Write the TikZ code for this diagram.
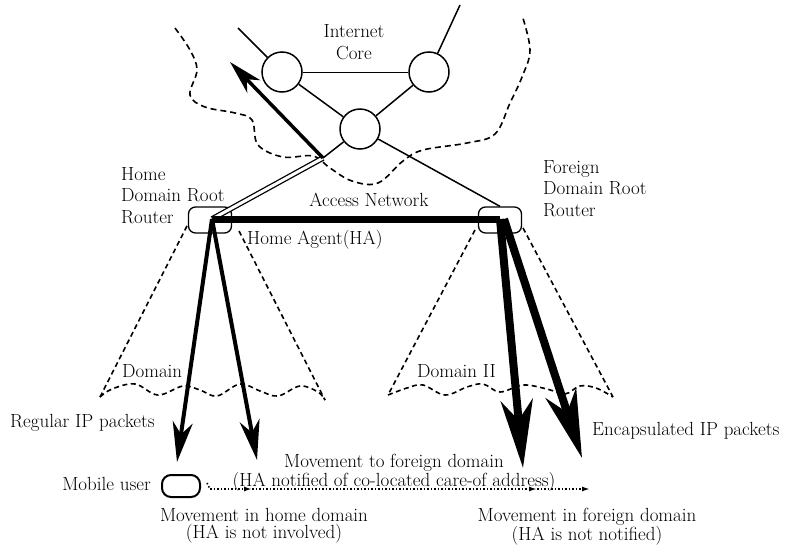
\documentclass[tikz,border=0pt]{standalone}
\usetikzlibrary{arrows.meta}
\begin{document}
\begin{tikzpicture}[x=1pt,y=-1pt,
  lbl/.style={inner sep=0pt, font=\fontsize{19}{21.5}\selectfont},
  router/.style={draw, line width=1.3pt, rounded corners=7pt, minimum width=43pt, minimum height=26pt, inner sep=0pt},
  corenode/.style={draw, circle, line width=1.5pt, minimum size=40pt, inner sep=0pt},
  userbox/.style={draw, line width=2pt, rounded corners=9pt, minimum width=38pt, minimum height=22pt, inner sep=0pt},
  link/.style={line width=1.5pt},
  thinlink/.style={line width=1pt},
  boundary/.style={line width=1.6pt, dash pattern=on 6pt off 4pt},
  domainedge/.style={line width=1.6pt, dash pattern=on 5pt off 3.5pt},
  uplink/.style={double, line width=1.3pt, double distance=3pt},
  homepkt/.style={line width=4pt, -{Stealth[length=40pt,width=20pt,inset=12pt]}},
  tunnel/.style={line width=8pt, -{Stealth[length=68pt,width=32pt,inset=20pt]}},
  outbound/.style={line width=3.5pt, -{Stealth[length=34pt,width=18pt,inset=10pt]}},
  trail/.style={line width=1.6pt, dash pattern=on 1.5pt off 2pt},
  move/.style={trail, -{Latex[length=8pt,width=5pt]}}
]
\useasboundingbox (0,0) rectangle (787,544);

% boundary of the Internet core
\draw[boundary] plot[smooth, tension=0.6] coordinates {(175,28) (190,50) (197,70) (190,95) (205,107) (235,113) (252,120) (258,145) (283,157) (313,156) (330,168) (352,181) (378,183) (403,161) (423,150) (467,143) (495,134) (510,103) (522,77) (530,50) (522,15)};

% core routers
\node[corenode] (c1) at (282,72) {};
\node[corenode] (c2) at (429,72) {};
\node[corenode] (c3) at (360,129) {};
\coordinate (t1) at (238,28);
\coordinate (t2) at (460,5);
\draw[link] (c1) -- (t1);
\draw[link] (c2) -- (t2);
\draw[thinlink] (c1) -- (c2);
\draw[link] (c1) -- (c3);
\draw[link] (c2) -- (c3);

% domain root routers
\node[router] (hr) at (210,220) {};
\node[router] (fr) at (500,220) {};
\coordinate (hh) at (212,219);
\coordinate (fh) at (500,219);
\coordinate (j) at (323,158);
\coordinate (up) at (230,62);

\draw[link] (c3) -- (fr.north);
\draw[link] (c3) -- (j);
\draw[uplink] (j) -- (hh);
\draw[outbound] (j) -- (up);

% domains
\draw[domainedge] (187,226) -- (100,397);
\draw[domainedge] (239,231) -- (325,400);
\draw[domainedge] plot[smooth, tension=0.6] coordinates {(100,397) (112,389) (135,384) (158,395) (183,386) (200,390) (217,396) (240,384) (260,391) (278,396) (300,386) (318,392) (325,400)};
\draw[domainedge] (475,230) -- (388,395);
\draw[domainedge] (523,228) -- (613,397);
\draw[domainedge] plot[smooth, tension=0.6] coordinates {(388,395) (407,388) (423,385) (445,395) (467,387) (483,384) (500,392) (523,385) (547,389) (565,394) (580,386) (596,388) (613,397)};

% home agent to foreign domain
\draw[line width=7pt] (hh) -- (fh);

% packet flows
\coordinate (ht1) at (177,462);
\coordinate (ht2) at (257,460);
\coordinate (ft1) at (523,468);
\coordinate (ft2) at (582,458);
\draw[homepkt] (hh) -- (ht1);
\draw[homepkt] (hh) -- (ht2);
\draw[tunnel] (fh) -- (ft1);
\draw[tunnel] ([xshift=4pt]fh) -- (ft2);

% mobile user and its movements
\node[userbox] (mu) at (181,486) {};
\coordinate (m0) at (210,489);
\coordinate (m1) at (252,489);
\coordinate (m2) at (537,489);
\coordinate (m3) at (590,489);
\draw[trail] (mu.east) ++(6pt,3pt) -- (m0);
\draw[move] (m0) -- (m1);
\draw[move] (m1) -- (m2);
\draw[move] (m2) -- (m3);

% labels
\node[lbl, anchor=north, align=center, font=\fontsize{19}{22}\selectfont] (lcore) at (354,24.8) {Internet\\Core};
\node[lbl, anchor=north west, align=left] (lhome) at (121,167) {Home\\Domain Root\\Router};
\node[lbl, anchor=north west, align=left] (lforeign) at (543,160) {Foreign\\Domain Root\\Router};
\node[lbl] (laccess) at (369,200) {Access Network};
\node[lbl, anchor=base west] (lha) at (247,244) {Home Agent(HA)};
\node[lbl, anchor=base west] (ldom) at (122,377) {Domain};
\node[lbl, anchor=base west] (ldom2) at (417,377) {Domain II};
\node[lbl, anchor=base west] (lreg) at (10,427) {Regular IP packets};
\node[lbl, anchor=base west] (lenc) at (592,435) {Encapsulated IP packets};
\node[lbl, anchor=base east] (lmu) at (151,490) {Mobile user};
\node[lbl, anchor=north, align=center, font=\fontsize{19}{13.5}\selectfont] (lmove) at (394,453.8) {Movement to foreign domain\\(HA notified of co-located care-of address)};
\node[lbl, anchor=north, align=center, font=\fontsize{19}{17}\selectfont] (lmhome) at (264,508) {Movement in home domain\\(HA is not involved)};
\node[lbl, anchor=north, align=center, font=\fontsize{19}{17}\selectfont] (lmforeign) at (587,508) {Movement in foreign domain\\(HA is not notified)};
\end{tikzpicture}
\end{document}
